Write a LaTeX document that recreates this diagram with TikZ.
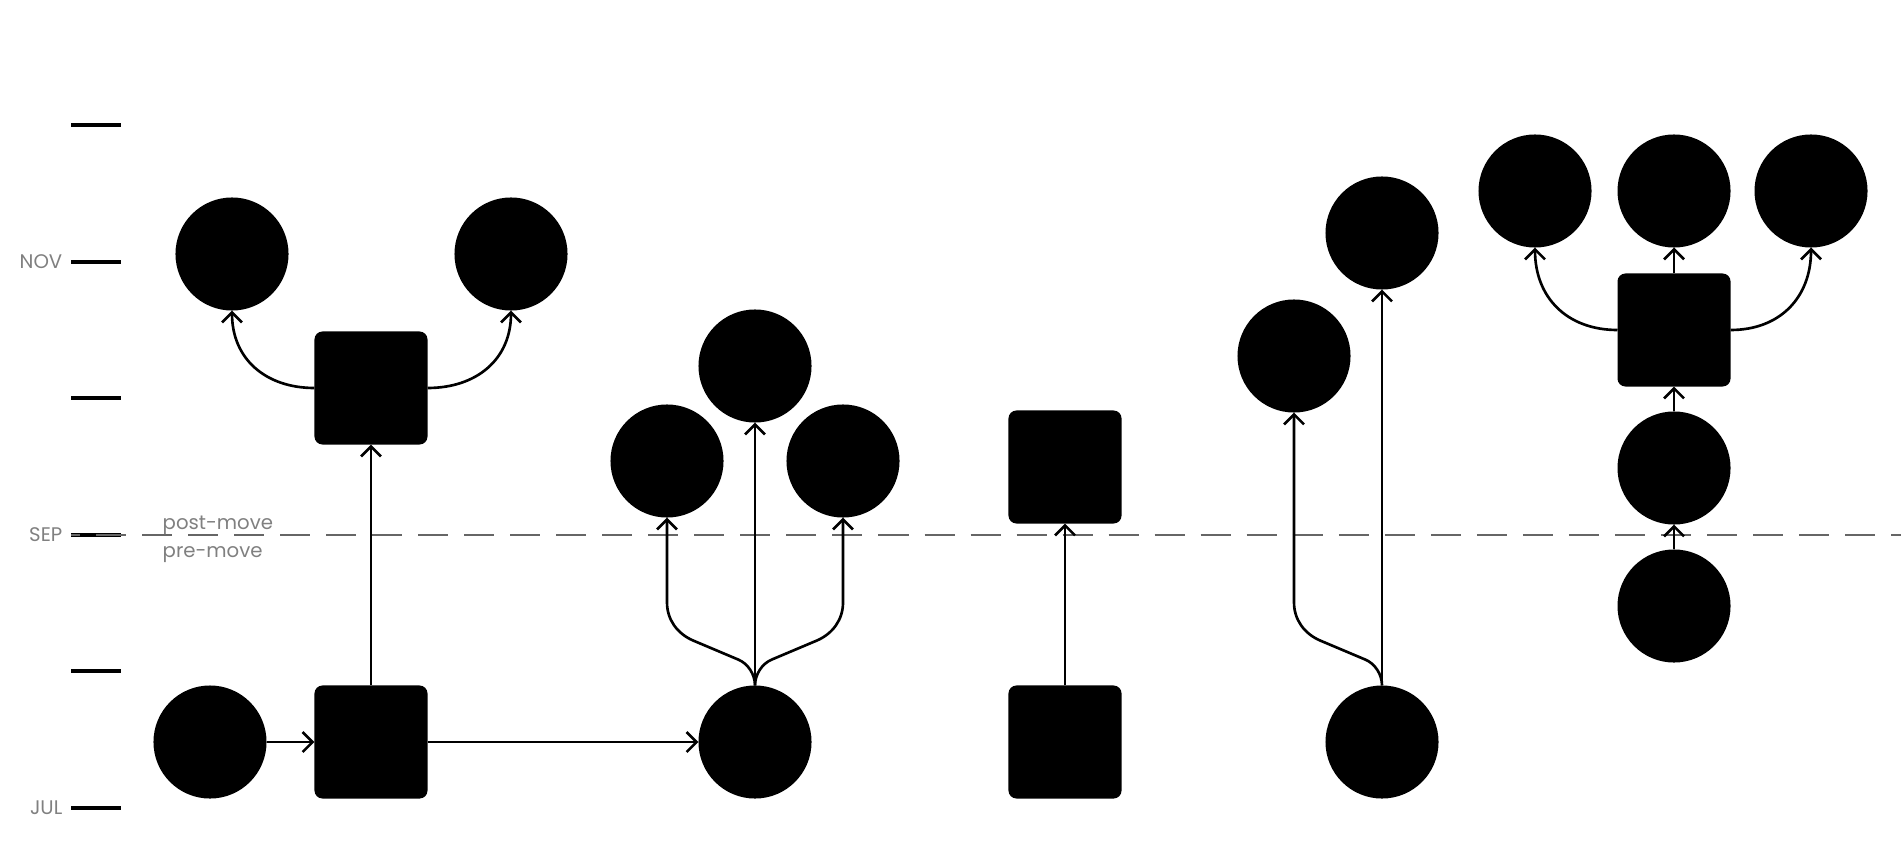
\documentclass[tikz,border=0pt]{standalone}
\usepackage{fontspec}
\setmainfont{Poppins}
\usetikzlibrary{arrows.meta,calc}
\begin{document}
\begin{tikzpicture}[x=0.01cm,y=0.01cm,
  circ/.style={circle,fill=black,minimum size=1.13cm,inner sep=0pt,outer sep=0pt},
  sq/.style={rectangle,fill=black,rounded corners=0.08cm,minimum size=1.13cm,inner sep=0pt,outer sep=0pt},
  conn/.style={line width=0.75pt,-{Straight Barb[length=0.1cm,width=0.2cm]}},
  tickmark/.style={line width=0.9pt},
  dashline/.style={line width=0.75pt,black!60,dash pattern=on 0.30cm off 0.16cm,dash phase=0.21cm},
  lbl/.style={text=black!50,font=\fontsize{5.6}{7}\selectfont,inner sep=0pt},
]
\useasboundingbox (0,0) rectangle (1901,863);

% axis ticks
\foreach \yy in {738,601,465,328,192,55}
  \draw[tickmark] (71,\yy) -- (121,\yy);
\node[lbl,anchor=east] (nov) at (63,601) {NOV};
\node[lbl,anchor=east] (sep) at (63,328) {SEP};
\node[lbl,anchor=east] (jul) at (63,55) {JUL};

% move line
\draw[dashline] (71,328) -- (1901,328);
\node[lbl,anchor=base west] (post) at (162,334) {post-move};
\node[lbl,anchor=base west] (pre) at (162,306) {pre-move};

% group 1
\node[circ] (c1) at (210,121) {};
\node[sq] (s1) at (371,121) {};
\node[sq] (s2) at (371,475) {};
\node[circ] (c2) at (232,609) {};
\node[circ] (c3) at (511,609) {};
\draw[conn] (c1.east) -- (s1.west);
\draw[conn] (s1.north) -- (s2.south);
\draw[conn] (s2.west) to[out=180,in=-90,looseness=1.1] (c2.south);
\draw[conn] (s2.east) to[out=0,in=-90,looseness=1.1] (c3.south);

% group 2
\node[circ] (m0) at (755,121) {};
\node[circ] (m1) at (755,497) {};
\node[circ] (ml) at (667,402) {};
\node[circ] (mr) at (843,402) {};
\draw[conn] (s1.east) -- (m0.west);
\draw[conn] (m0.north) -- (m1.south);
\draw[conn] (m0.north) .. controls ($(m0.north)+(0,11)$) and ($(m0.north)+(-7,22)$) .. ($(m0.north)+(-17,26)$)
  -- ($(m0.north)+(-62,45)$) .. controls ($(m0.north)+(-78,52)$) and ($(m0.north)+(-88,66)$) .. ($(m0.north)+(-88,83)$)
  -- (ml.south);
\draw[conn] (m0.north) .. controls ($(m0.north)+(0,11)$) and ($(m0.north)+(7,22)$) .. ($(m0.north)+(17,26)$)
  -- ($(m0.north)+(62,45)$) .. controls ($(m0.north)+(78,52)$) and ($(m0.north)+(88,66)$) .. ($(m0.north)+(88,83)$)
  -- (mr.south);

% group 3
\node[sq] (s3) at (1065,121) {};
\node[sq] (s4) at (1065,396) {};
\draw[conn] (s3.north) -- (s4.south);

% group 4
\node[circ] (n0) at (1382,121) {};
\node[circ] (n1) at (1382,630) {};
\node[circ] (nl) at (1294,507) {};
\draw[conn] (n0.north) -- (n1.south);
\draw[conn] (n0.north) .. controls ($(n0.north)+(0,11)$) and ($(n0.north)+(-7,22)$) .. ($(n0.north)+(-17,26)$)
  -- ($(n0.north)+(-62,45)$) .. controls ($(n0.north)+(-78,52)$) and ($(n0.north)+(-88,66)$) .. ($(n0.north)+(-88,83)$)
  -- (nl.south);

% group 5
\node[circ] (p0) at (1674,257) {};
\node[circ] (p1) at (1674,395) {};
\node[sq] (q) at (1674,533) {};
\node[circ] (t1) at (1535,672) {};
\node[circ] (t2) at (1674,672) {};
\node[circ] (t3) at (1811,672) {};
\draw[conn] (p0.north) -- (p1.south);
\draw[conn] (p1.north) -- (q.south);
\draw[conn] (q.north) -- (t2.south);
\draw[conn] (q.west) to[out=180,in=-90,looseness=1.1] (t1.south);
\draw[conn] (q.east) to[out=0,in=-90,looseness=1.1] (t3.south);
\end{tikzpicture}
\end{document}
